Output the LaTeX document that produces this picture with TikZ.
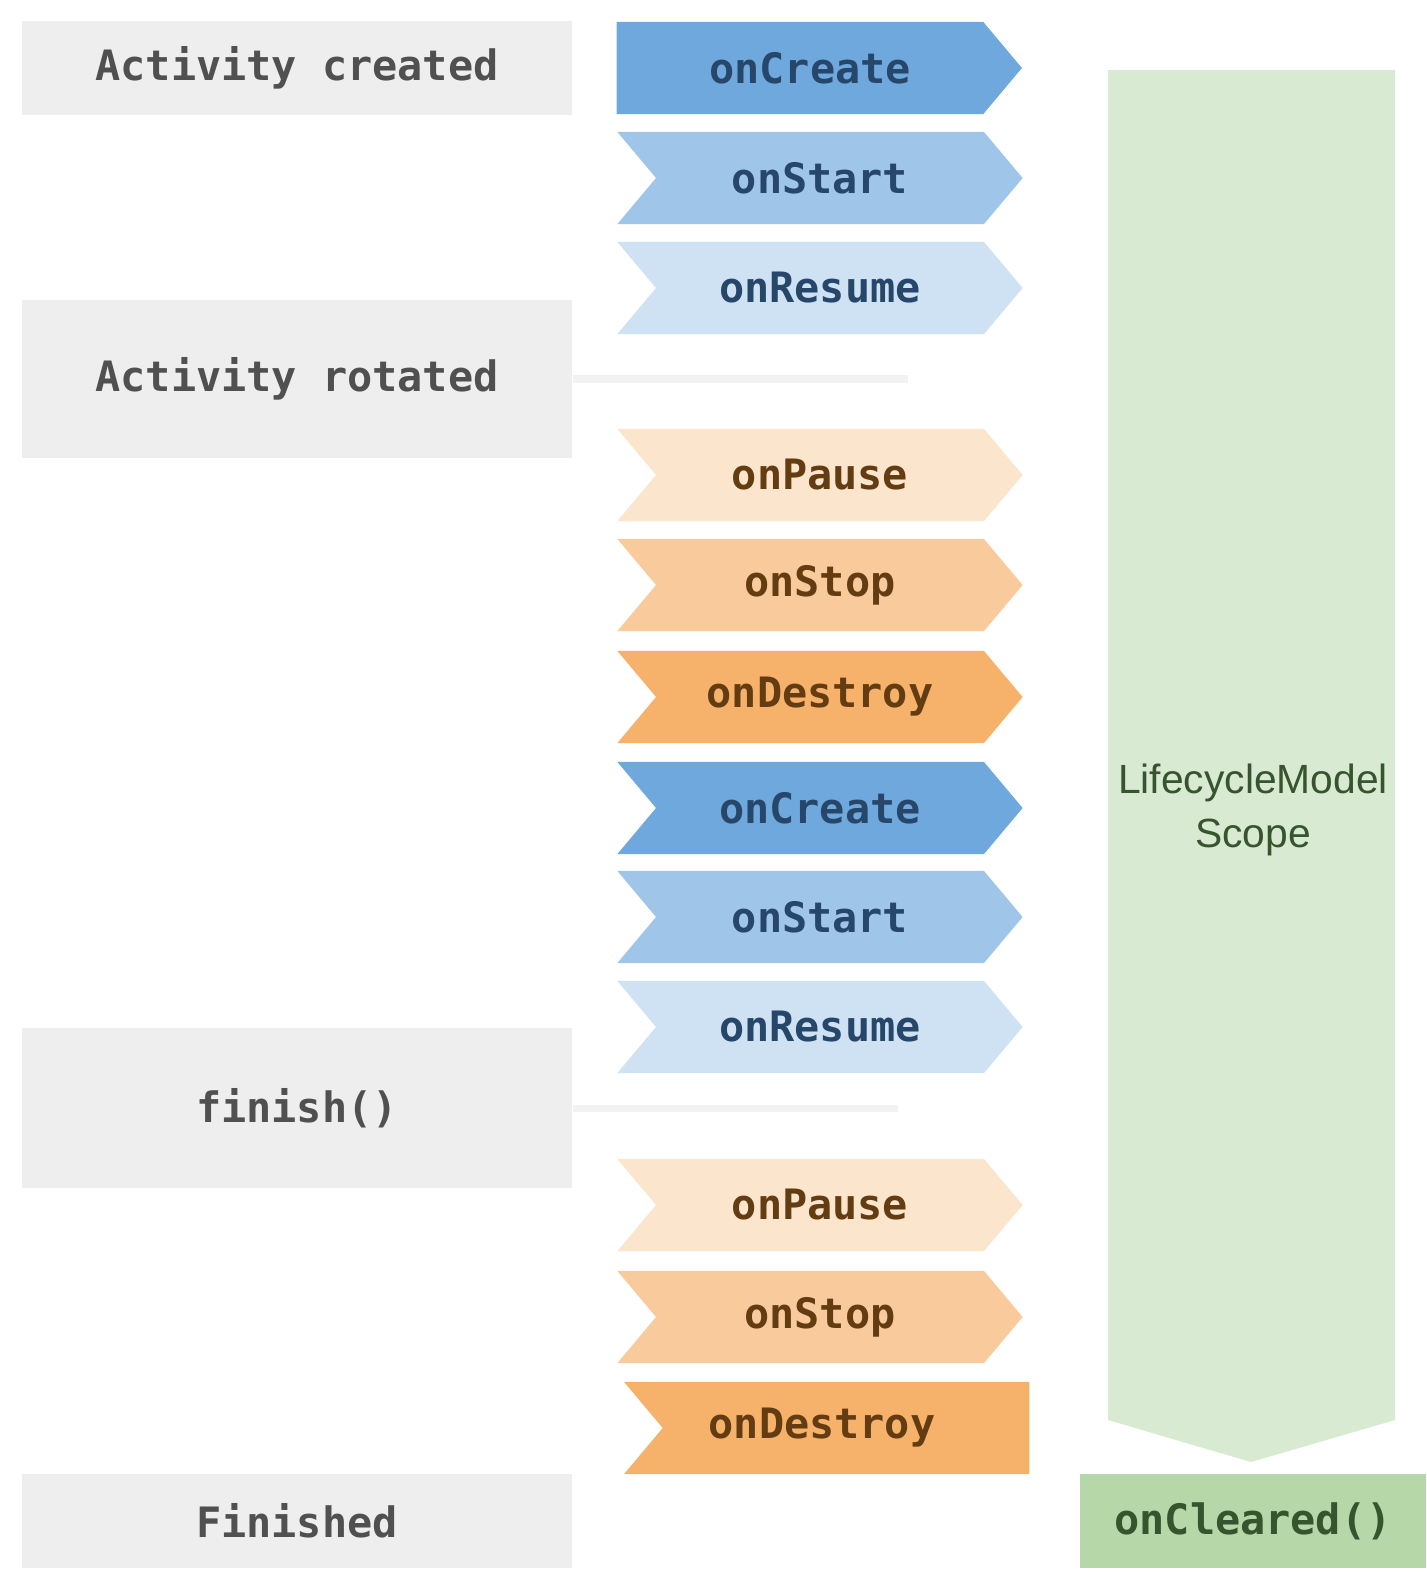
\documentclass[tikz,border=0pt]{standalone}
\usepackage{fontspec}
\setmonofont{DejaVu Sans Mono}
\setsansfont{Liberation Sans}
\usetikzlibrary{shapes.symbols}

\definecolor{stategrey}{HTML}{EEEEEE}
\definecolor{statetext}{HTML}{505050}
\definecolor{createblue}{HTML}{6FA8DC}
\definecolor{startblue}{HTML}{9FC5E8}
\definecolor{resumeblue}{HTML}{CFE2F3}
\definecolor{pauseorange}{HTML}{FCE5CD}
\definecolor{stoporange}{HTML}{F9CB9C}
\definecolor{destroyorange}{HTML}{F6B26B}
\definecolor{scopegreen}{HTML}{D9EAD3}
\definecolor{clearedgreen}{HTML}{B6D7A8}
\definecolor{bluetext}{HTML}{27476A}
\definecolor{orangetext}{HTML}{643C12}
\definecolor{greentext}{HTML}{36552E}
\definecolor{fadeline}{HTML}{F2F2F2}

\tikzset{
  monofont/.style={font=\ttfamily\bfseries\fontsize{11.9}{14}\selectfont},
  state/.style={monofont, fill=stategrey, text=statetext, inner sep=0pt, minimum width=5.5cm},
  callback/.style={monofont, shape=signal, signal to=east, signal from=west,
    signal pointer angle=100, inner sep=0pt, minimum width=4.05cm, minimum height=0.92cm},
  blueback/.style={callback, text=bluetext},
  orangeback/.style={callback, text=orangetext}
}

\begin{document}
\begin{tikzpicture}[x=0.01cm,y=-0.01cm]
\useasboundingbox (0,0) rectangle (1426,1572);
\fill [white] (0,0) rectangle (1426,1572);

\node [state, minimum height=0.93cm] (created) at (297,68) {Activity created};
\node [state, minimum height=1.58cm] (rotated) at (297,379) {Activity rotated};
\node [state, minimum height=1.6cm] (finish) at (297,1108) {finish()};
\node [state, minimum height=0.93cm] (finished) at (297,1521) {Finished};

\draw [fadeline, line width=2pt] (rotated.east) -- ++(335,0) coordinate (rotatedend);
\draw [fadeline, line width=2pt] (finish.east) -- ++(325,0) coordinate (finishend);

\node [blueback, fill=createblue, signal from=nowhere] (create1) at (800,68) {\hspace*{0.2cm}onCreate};
\node [blueback, fill=startblue] (start1) at (820,178) {onStart};
\node [blueback, fill=resumeblue] (resume1) at (820,288) {onResume};
\node [orangeback, fill=pauseorange] (pause1) at (820,475) {onPause};
\node [orangeback, fill=stoporange] (stop1) at (820,585) {onStop};
\node [orangeback, fill=destroyorange] (destroy1) at (820,697) {onDestroy};
\node [blueback, fill=createblue] (create2) at (820,808) {onCreate};
\node [blueback, fill=startblue] (start2) at (820,917) {onStart};
\node [blueback, fill=resumeblue] (resume2) at (820,1027) {onResume};
\node [orangeback, fill=pauseorange] (pause2) at (820,1205) {onPause};
\node [orangeback, fill=stoporange] (stop2) at (820,1317) {onStop};
\node [orangeback, fill=destroyorange, signal to=nowhere] (destroy2) at (846,1428) {onDestroy\hspace*{0.48cm}};

\fill [scopegreen] (1108,70) -- (1395,70) -- (1395,1420) -- (1251,1462) -- (1108,1420) -- cycle;
\node [font=\sffamily\fontsize{11.6}{15.6}\selectfont, text=greentext, align=center]
  (scopelabel) at (1253,810) {LifecycleModel\\Scope};
\node [monofont, fill=clearedgreen, text=greentext, inner sep=0pt,
  minimum width=3.46cm, minimum height=0.93cm] (cleared) at (1253,1521) {onCleared()};
\end{tikzpicture}
\end{document}
